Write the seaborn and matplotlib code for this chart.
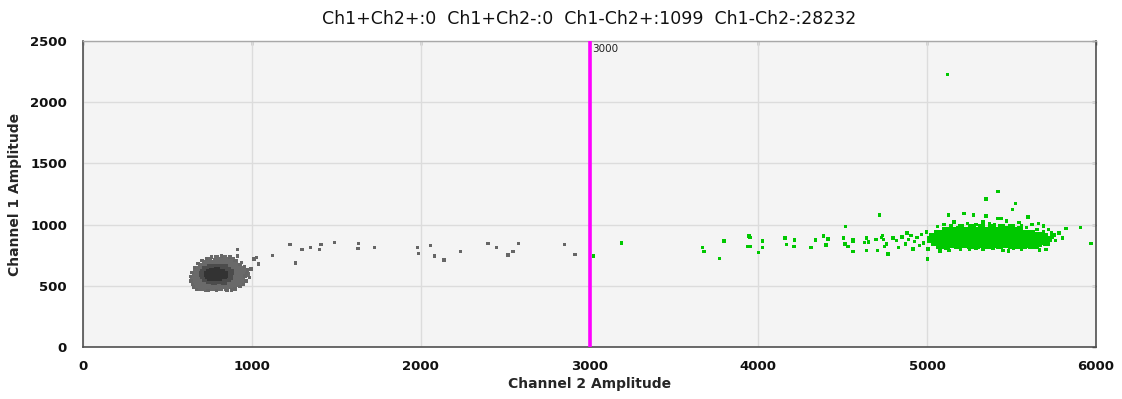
import numpy as np
import pandas as pd
import matplotlib
matplotlib.use("Agg")
import matplotlib.pyplot as plt
import seaborn as sns

# ---------------- data ----------------
title_text = "Ch1+Ch2+:0  Ch1+Ch2-:0  Ch1-Ch2+:1099  Ch1-Ch2-:28232"
threshold_ch2 = 3000
x_ticks = [0, 1000, 2000, 3000, 4000, 5000, 6000]
y_ticks = [0, 500, 1000, 1500, 2000, 2500]

# Ch1-Ch2- droplets: outer body of the grey cluster
neg_body_x = [700, 735, 770, 815, 850,
              665, 690, 720, 745, 780, 805, 835, 870, 895,
              655, 680, 705, 728, 752, 777, 801, 826, 851, 876, 902, 925,
              648, 672, 697, 721, 746, 770, 795, 819, 844, 868, 893, 917, 940,
              652, 676, 701, 725, 750, 774, 799, 823, 848, 872, 897, 921, 946,
              660, 684, 709, 733, 758, 782, 807, 831, 856, 880, 905, 929, 954, 972,
              668, 692, 717, 741, 766, 790, 815, 839, 864, 888, 913, 937, 960,
              680, 704, 729, 753, 778, 802, 827, 851, 876, 900, 925, 948,
              697, 722, 746, 771, 795, 820, 844, 869, 893, 917,
              718, 745, 772, 798, 825, 851, 878, 903,
              750, 785, 820, 855, 884,
              790, 835]
neg_body_y = [478, 472, 480, 476, 482,
              497, 493, 500, 495, 498, 492, 499, 494, 502,
              517, 512, 519, 514, 520, 515, 518, 513, 519, 516, 521, 514,
              541, 537, 543, 538, 542, 536, 540, 544, 538, 542, 537, 543, 539,
              566, 562, 567, 563, 568, 561, 565, 569, 563, 567, 562, 566, 564,
              591, 587, 592, 588, 593, 586, 590, 594, 588, 592, 587, 591, 589, 594,
              616, 612, 617, 613, 618, 611, 615, 619, 613, 617, 612, 616, 614,
              641, 637, 642, 638, 643, 636, 640, 644, 638, 642, 637, 641,
              666, 662, 667, 663, 668, 661, 665, 669, 663, 667,
              691, 687, 692, 688, 693, 686, 690, 694,
              712, 708, 714, 710, 713,
              728, 732]

# Ch1-Ch2- droplets: denser middle of the grey cluster
neg_mid_x = [745, 775, 805, 835,
             720, 748, 776, 804, 832, 858,
             708, 735, 762, 790, 818, 845, 870,
             705, 732, 760, 788, 816, 843, 872,
             712, 740, 768, 796, 824, 852, 878,
             725, 752, 780, 808, 836, 862,
             750, 780, 810, 840]
neg_mid_y = [535, 532, 537, 534,
             556, 553, 558, 554, 557, 552,
             576, 573, 578, 574, 577, 572, 575,
             596, 593, 598, 594, 597, 592, 595,
             616, 613, 618, 614, 617, 612, 615,
             636, 633, 638, 634, 637, 632,
             655, 652, 657, 654]

# Ch1-Ch2- droplets: darkest centre of the grey cluster
neg_core_x = [755, 780, 805,
              740, 765, 790, 815, 835,
              738, 763, 788, 813, 838,
              745, 770, 795, 820,
              765, 795]
neg_core_y = [565, 562, 566,
              580, 578, 582, 579, 581,
              595, 597, 593, 596, 594,
              610, 612, 608, 611,
              622, 624]

# Ch1-Ch2- droplets: ragged edge and scattered ones
neg_sparse_x = [648, 852, 970, 994, 1041, 1010, 1124, 915, 915, 762,
                996, 1014, 1026, 1227, 1257, 1297, 1346, 1401, 1409, 1488,
                1632, 1628, 1725, 1982, 1988, 2059, 2083, 2138, 2235, 2399,
                2450, 2518, 2548, 2581, 2852, 2915,
                655, 672, 640, 635, 645, 660, 680, 705, 730, 870,
                900, 930, 955, 975, 985, 965, 950, 930, 900, 880,
                790, 740, 820, 760, 940, 960]
neg_sparse_y = [512, 460, 602, 635, 678, 719, 746, 798, 744, 733,
                643, 719, 733, 836, 686, 798, 814, 798, 836, 852,
                844, 803, 814, 814, 765, 831, 743, 711, 782, 844,
                814, 752, 782, 844, 836, 757,
                490, 470, 540, 575, 610, 650, 680, 705, 725, 735,
                705, 675, 660, 630, 570, 540, 510, 495, 475, 465,
                460, 462, 742, 738, 690, 580]

# Ch1-Ch2+ droplets: dense green cluster
pos_core_x = [5080, 5115, 5150, 5185, 5220, 5255, 5290, 5325, 5360, 5395, 5430, 5465, 5500, 5535, 5570, 5605, 5640,
              5040, 5075, 5110, 5145, 5180, 5215, 5250, 5285, 5320, 5355, 5390, 5425, 5460, 5495, 5530, 5565, 5600, 5635, 5670, 5705,
              5020, 5055, 5090, 5125, 5160, 5195, 5230, 5265, 5300, 5335, 5370, 5405, 5440, 5475, 5510, 5545, 5580, 5615, 5650, 5685, 5720,
              5030, 5065, 5100, 5135, 5170, 5205, 5240, 5275, 5310, 5345, 5380, 5415, 5450, 5485, 5520, 5555, 5590, 5625, 5660, 5695,
              5060, 5095, 5130, 5165, 5200, 5235, 5270, 5305, 5340, 5375, 5410, 5445, 5480, 5515, 5550, 5585, 5620,
              5110, 5150, 5190, 5230, 5270, 5310, 5350, 5390, 5430, 5470, 5510, 5550,
              5200, 5260, 5320, 5380, 5440, 5500]
pos_core_y = [832, 826, 834, 828, 835, 825, 831, 836, 827, 833, 829, 835, 826, 832, 828, 834, 830,
              856, 852, 858, 853, 859, 851, 855, 860, 852, 857, 853, 859, 851, 856, 860, 852, 857, 853, 858, 854,
              881, 877, 883, 878, 884, 876, 880, 885, 877, 882, 878, 884, 876, 881, 885, 877, 882, 878, 883, 879, 882,
              906, 902, 908, 903, 909, 901, 905, 910, 902, 907, 903, 909, 901, 906, 910, 902, 907, 903, 908, 904,
              931, 927, 933, 928, 934, 926, 930, 935, 927, 932, 928, 934, 926, 931, 935, 927, 932,
              956, 952, 958, 953, 959, 951, 955, 960, 952, 957, 953, 958,
              978, 974, 980, 976, 979, 975]

# Ch1-Ch2+ droplets: ragged edge and scattered ones
pos_sparse_x = [3022, 3190, 3668, 3678, 3769, 3796, 3944, 3950, 3935, 3950,
                4000, 4023, 4023, 4158, 4168, 4215, 4211, 4312, 4340, 4385,
                4401, 4413, 4504, 4516, 4514, 4532, 4561, 4561, 4561, 4628,
                4640, 4652, 4640, 4697, 4707, 4729, 4737, 4741, 4749, 4759,
                4768, 4798, 4719, 4769,
                4820, 4850, 4870, 4890, 4905, 4925, 4940, 4955, 4965, 4980,
                4995, 5005, 4830, 4880, 4915, 5002, 5075, 5199, 5483, 5664,
                5703, 5753, 5737, 5822, 5907, 5970, 5658, 5543, 5597, 5417,
                5437, 5348, 5275, 5217, 5126, 5506, 5522, 5348, 5420, 5120,
                5740, 5760, 5780, 5800, 5720, 5690, 5130, 5250, 5330, 5450,
                5560, 5100, 5160, 5240, 5330, 5400, 5470, 5560, 5620,
                5060, 5140, 5210, 5290, 5370, 5450, 5510, 5590, 5650, 5690,
                5060, 5110, 5170, 5290, 5390, 5510, 5610, 5670, 5720]
pos_sparse_y = [743, 850, 811, 779, 724, 866, 907, 896, 820, 820,
                774, 866, 811, 891, 836, 874, 820, 811, 874, 907,
                833, 882, 891, 986, 841, 820, 874, 779, 860, 852,
                891, 858, 790, 880, 790, 896, 912, 880, 820, 841,
                757, 891, 1078, 760,
                870, 900, 840, 880, 910, 860, 895, 830, 920, 850,
                940, 800, 815, 930, 800, 719, 784, 798, 784, 793,
                798, 915, 930, 970, 975, 844, 1008, 1019, 1062, 1051,
                1051, 1070, 1078, 1092, 1078, 1125, 1171, 1209, 1272, 2228,
                900, 870, 930, 890, 960, 990, 790, 795, 800, 790,
                795, 1000, 1020, 1010, 1020, 1000, 1030, 990, 1000,
                985, 995, 990, 1000, 1005, 995, 985, 975, 960, 940,
                815, 805, 812, 808, 805, 810, 815, 830, 850]

# ---------------- frames ----------------
neg_body = pd.DataFrame({"ch2": neg_body_x, "ch1": neg_body_y})
neg_mid = pd.DataFrame({"ch2": neg_mid_x, "ch1": neg_mid_y})
neg_core = pd.DataFrame({"ch2": neg_core_x, "ch1": neg_core_y})
neg_sparse = pd.DataFrame({"ch2": neg_sparse_x, "ch1": neg_sparse_y})
pos_core = pd.DataFrame({"ch2": pos_core_x, "ch1": pos_core_y})
pos_sparse = pd.DataFrame({"ch2": pos_sparse_x, "ch1": pos_sparse_y})

sns.set_style("white")
plt.rcParams["font.family"] = ["DejaVu Sans"]

fig = plt.figure(figsize=(11.22, 3.99), dpi=100)
ax = fig.add_axes([83 / 1122, 1 - 347 / 399, (1096 - 83) / 1122, (347 - 41) / 399])
ax.set_facecolor("#f4f4f4")

green = "#00c800"
kw = dict(ax=ax, x="ch2", y="ch1", marker="s", edgecolor="none", linewidth=0)
sns.scatterplot(data=neg_body, s=15, color="#6a6a6a", zorder=3, **kw)
sns.scatterplot(data=neg_mid, s=18, color="#4c4c4c", zorder=4, **kw)
sns.scatterplot(data=neg_core, s=22, color="#333333", zorder=5, **kw)
sns.scatterplot(data=neg_sparse, s=6, color="#666666", zorder=3, **kw)
sns.scatterplot(data=pos_core, s=24, color=green, zorder=3, **kw)
sns.scatterplot(data=pos_sparse, s=6, color=green, zorder=3, **kw)

# threshold line
ax.axvline(threshold_ch2, color="#ff00ff", linewidth=2.6, zorder=6)
ax.text(threshold_ch2 + 15, 2500 - 25, str(threshold_ch2), fontsize=7.5,
        color="#222222", ha="left", va="top", zorder=7)

ax.set_xlim(0, 6000)
ax.set_ylim(0, 2500)
ax.set_xticks(x_ticks)
ax.set_yticks(y_ticks)
ax.grid(True, color="#dcdcdc", linewidth=1.0, zorder=0)
ax.set_axisbelow(True)

for side in ["left", "bottom", "right"]:
    ax.spines[side].set_visible(True)
    ax.spines[side].set_color("#505050")
    ax.spines[side].set_linewidth(1.2)
ax.spines["top"].set_visible(True)
ax.spines["top"].set_color("#a8a8a8")
ax.spines["top"].set_linewidth(1.0)

ax.tick_params(axis="both", which="major", direction="inout", length=7, width=1.0,
               color="#404040", labelsize=9.5, labelcolor="#111111")
ax.tick_params(axis="x", pad=6)
ax.tick_params(axis="y", pad=8)
for lab in ax.get_xticklabels() + ax.get_yticklabels():
    lab.set_fontweight("bold")

# short inner ticks on the top and right edges
top = ax.secondary_xaxis("top")
top.set_xticks(x_ticks)
top.tick_params(direction="in", length=3, width=1.0, color="#404040", labeltop=False)
top.spines["top"].set_visible(False)
right = ax.secondary_yaxis("right")
right.set_yticks(y_ticks)
right.tick_params(direction="in", length=3, width=1.0, color="#404040", labelright=False)
right.spines["right"].set_visible(False)

ax.set_xlabel("Channel 2 Amplitude", fontsize=10, fontweight="bold", labelpad=3)
ax.set_ylabel("Channel 1 Amplitude", fontsize=10, fontweight="bold", labelpad=6)

fig.text((83 + 1096) / 2 / 1122, 1 - 19 / 399, title_text, ha="center", va="center",
         fontsize=12.5, family=["Liberation Sans Narrow", "DejaVu Sans"], color="#111111")

fig.savefig("out.png", dpi=100, facecolor="white")
